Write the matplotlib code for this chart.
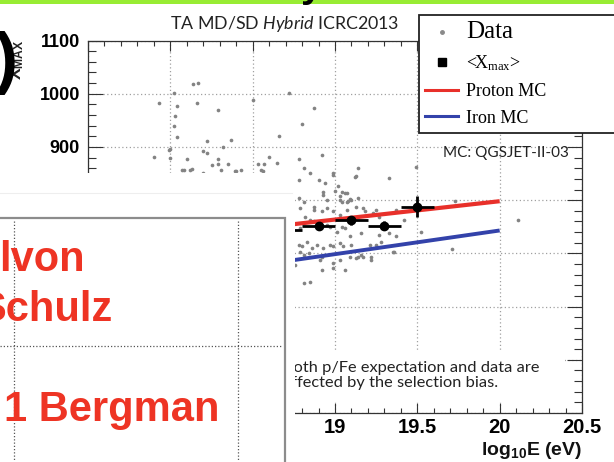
import matplotlib
matplotlib.use("Agg")
import matplotlib.pyplot as plt
from matplotlib.patches import Rectangle
from matplotlib.lines import Line2D
from matplotlib.ticker import MultipleLocator, FixedLocator

plt.rcParams['mathtext.fontset'] = 'custom'
plt.rcParams['mathtext.bf'] = 'Liberation Sans:bold'
plt.rcParams['mathtext.rm'] = 'Liberation Sans'
plt.rcParams['mathtext.it'] = 'Lato:italic'
plt.rcParams['mathtext.sf'] = 'Liberation Serif'

# ---------------- data ----------------
data_logE = [18.14, 18.17, 17.93, 18.02, 18.04, 18.16, 18.29, 18.03, 18.02, 18.04,
             18.22, 18.37, 18.32, 18.50, 18.72, 18.66, 17.99, 18.00, 17.90, 18.00,
             18.10, 18.20, 18.22, 18.29, 18.29, 18.25, 18.35, 18.07, 18.08, 18.12,
             18.13, 18.20, 18.31, 18.39, 18.40, 18.43, 18.53, 18.57, 18.55, 18.56,
             18.60, 18.65, 18.78, 18.80, 18.81, 18.87, 18.92, 18.99, 19.14, 19.12,
             19.13, 19.33, 19.49, 18.85,
             18.78, 18.90, 18.94, 18.99, 19.02, 19.06, 19.07, 19.00, 18.78, 18.93,
             18.95, 19.03, 19.04, 19.07, 19.09, 19.10, 18.79, 18.87, 18.92, 18.95,
             18.99, 19.03, 19.07, 19.13, 19.17, 19.25, 19.37, 18.82, 18.85, 18.87,
             18.79, 18.90, 18.95, 18.97, 19.01, 19.04, 19.06, 19.09, 19.16, 19.21,
             19.27, 19.33, 19.37, 19.42, 19.52, 18.78, 18.80, 18.83, 18.86, 18.89,
             18.93, 18.97, 18.99, 19.03, 19.05, 19.10, 19.16, 19.14, 19.17, 19.22,
             18.79, 18.81, 18.91, 18.99, 18.99, 19.03, 19.36, 18.92, 19.06, 18.81,
             18.85, 19.71, 20.11, 19.73, 18.81, 18.87, 18.93, 19.03, 19.04, 19.08,
             19.14, 19.18, 19.23, 19.27, 19.25, 19.28, 19.35, 19.09, 19.13, 18.92,
             18.76, 18.84, 19.22]
data_xmax = [1018, 1021, 983, 1002, 977, 983, 970, 958, 940, 918,
             912, 913, 900, 988, 1001, 921, 895, 896, 881, 879,
             878, 893, 888, 877, 868, 866, 867, 857, 857, 857,
             858, 851, 856, 855, 854, 856, 868, 868, 857, 855,
             882, 870, 877, 943, 861, 973, 884, 851, 860, 844,
             846, 841, 862, 851,
             838, 837, 832, 848, 826, 814, 813, 817, 804, 810,
             800, 800, 797, 797, 802, 800, 785, 782, 779, 786,
             779, 772, 782, 788, 785, 782, 782, 769, 763, 760,
             747, 747, 754, 750, 741, 750, 747, 732, 738, 716,
             735, 738, 732, 763, 741, 716, 713, 722, 710, 716,
             710, 716, 713, 719, 714, 716, 697, 694, 694, 694,
             703, 697, 688, 682, 672, 688, 703, 669, 669, 644,
             647, 708, 763, 799, 797, 788, 815, 807, 816, 799,
             804, 779, 776, 769, 716, 722, 703, 694, 691, 694,
             678, 700, 688]

mean_logE = [18.7, 18.9, 19.1, 19.3, 19.5]
mean_xmax = [744, 752, 762, 752, 788]
mean_xerr = [0.1, 0.1, 0.1, 0.1, 0.1]
mean_yerr = [6, 7, 8, 9, 19]

mc_logE = [18.0, 20.0]
proton_xmax = [729, 798]
iron_xmax = [654, 743]

x_ticks = [17.5, 18, 18.5, 19, 19.5, 20, 20.5]
x_ticklabels = ['17.5', '18', '18.5', '19', '19.5', '20', '20.5']
y_ticks = [400, 500, 600, 700, 800, 900, 1000, 1100]
y_ticklabels = ['400', '500', '600', '700', '800', '900', '1000', '1100']

W, H = 614, 462
def fx(x):
    return x / W
def fy(y):
    return 1 - y / H

fig = plt.figure(figsize=(6.14, 4.62), dpi=100)
fig.patch.set_facecolor('white')

ax = fig.add_axes([fx(88), fy(413), (582 - 88) / W, (413 - 40.5) / H])
ax.set_xlim(17.5, 20.5)
ax.set_ylim(400, 1100)

ax.xaxis.set_major_locator(FixedLocator(x_ticks))
ax.set_xticklabels(x_ticklabels)
ax.xaxis.set_minor_locator(MultipleLocator(0.1))
ax.yaxis.set_major_locator(FixedLocator(y_ticks))
ax.set_yticklabels(y_ticklabels)
ax.yaxis.set_minor_locator(MultipleLocator(20))

for s in ax.spines.values():
    s.set_linewidth(0.9)
    s.set_color('#333333')

ax.tick_params(axis='both', which='both', direction='in', top=True, right=True,
               color='#333333', width=0.8)
ax.tick_params(axis='x', which='major', length=7.2, pad=3.6, labelsize=14.5)
ax.tick_params(axis='x', which='minor', length=3.6)
ax.tick_params(axis='y', which='major', length=10.8, pad=5.8, labelsize=13)
ax.tick_params(axis='y', which='minor', length=5.8)
for lab in ax.get_xticklabels() + ax.get_yticklabels():
    lab.set_fontfamily('Liberation Sans')
    lab.set_fontweight('bold')

ax.grid(True, which='major', ls=(0, (1, 2)), color='#a0a0a0', lw=0.9)
ax.set_axisbelow(True)

ax.scatter(data_logE, data_xmax, s=7, color='#838383', zorder=2, linewidths=0)
ax.plot(mc_logE, proton_xmax, color='#e8302a', lw=3, zorder=3, solid_capstyle='butt')
ax.plot(mc_logE, iron_xmax, color='#3342aa', lw=2.8, zorder=3, solid_capstyle='butt')
ax.errorbar(mean_logE, mean_xmax, xerr=mean_xerr, yerr=mean_yerr, fmt='o',
            color='black', ms=6, elinewidth=2, capsize=0, zorder=4)

handles = [Line2D([], [], ls='', marker='o', ms=2.5, color='#8a8a8a'),
           Line2D([], [], ls='', marker='s', ms=6, color='black'),
           Line2D([], [], color='#e8302a', lw=2.2),
           Line2D([], [], color='#3342aa', lw=2.2)]
labels = ['Data', r'<X$_{\mathsf{max}}$>', 'Proton MC', 'Iron MC']
leg = ax.legend(handles, labels, loc='upper left',
                bbox_to_anchor=(fx(419), fy(133), 240 / W, 118 / H),
                bbox_transform=fig.transFigure, mode='expand', borderaxespad=0,
                frameon=True, fancybox=False, framealpha=1, edgecolor='#222222',
                prop={'family': 'Liberation Serif', 'size': 13},
                handlelength=1.8, handletextpad=0.45, labelspacing=0.55,
                borderpad=0.35)
leg.get_frame().set_linewidth(1.3)
leg.get_texts()[0].set_fontsize(18)
leg.set_zorder(6)

ax.text(fx(443), fy(157), 'MC: QGSJET-II-03', transform=fig.transFigure,
        fontfamily='Lato', fontsize=11, color='#222222', ha='left', va='baseline', zorder=5)

fig.text(fx(170), fy(29), r'TA MD/SD $\mathit{Hybrid}$ ICRC2013', fontfamily='Lato',
         fontsize=12.8, color='#222222', ha='left', va='baseline')

fig.text(fx(17), fy(60), r'$\mathbf{X_{MAX}}$', rotation=90, fontsize=12.5,
         ha='center', va='center', color='#222222')
fig.text(fx(-5), fy(63), ')', fontfamily='Liberation Sans', fontweight='bold',
         fontsize=50, ha='left', va='center', color='black', zorder=7)

fig.text(fx(582), fy(455), r'$\mathbf{log_{10}E\ (eV)}$', fontsize=14,
         ha='right', va='baseline', color='#111111')

# slide decorations
fig.add_artist(Rectangle((0, fy(3.5)), 1, 3.5 / H, transform=fig.transFigure,
                         facecolor='#98ec33', edgecolor='none', zorder=8))
fig.text(fx(312), fy(-3), 'y', fontfamily='Liberation Sans', fontweight='bold',
         fontsize=28, ha='center', va='baseline', color='black', zorder=9)

# white text box
fig.add_artist(Rectangle((fx(280), fy(402)), (565 - 280) / W, 51 / H,
                         transform=fig.transFigure, facecolor='white',
                         edgecolor='none', zorder=8))
fig.text(fx(283), fy(372), 'Both p/Fe expectation and data are', fontfamily='Lato',
         fontsize=11.8, color='#222222', ha='left', va='baseline', zorder=9)
fig.text(fx(283), fy(387), 'affected by the selection bias.', fontfamily='Lato',
         fontsize=11.8, color='#222222', ha='left', va='baseline', zorder=9)

# white cover and overlapping box
fig.add_artist(Rectangle((0, 0), 295 / W, fy(173), transform=fig.transFigure,
                         facecolor='white', edgecolor='none', zorder=10))
fig.add_artist(Line2D([0, fx(292)], [fy(193), fy(193)], transform=fig.transFigure,
                      color='#eeeeee', lw=0.8, zorder=11))
fig.add_artist(Line2D([0, fx(285), fx(285)], [fy(218), fy(218), 0],
                      transform=fig.transFigure, color='#8c8c8c', lw=1.6,
                      zorder=11, solid_joinstyle='miter'))
for gx in [14, 238]:
    fig.add_artist(Line2D([fx(gx), fx(gx)], [fy(221), 0], transform=fig.transFigure,
                          color='#555555', lw=0.9, ls=(0, (1, 1.6)), zorder=12))
fig.add_artist(Line2D([0, fx(282)], [fy(346), fy(346)], transform=fig.transFigure,
                      color='#555555', lw=0.9, ls=(0, (1, 1.6)), zorder=12))

red = '#ee3424'
fig.text(fx(85), fy(271), 'lvon', fontfamily='Liberation Sans', fontweight='bold',
         fontsize=30, color=red, ha='right', va='baseline', zorder=13)
fig.text(fx(113), fy(321), 'Schulz', fontfamily='Liberation Sans', fontweight='bold',
         fontsize=30, color=red, ha='right', va='baseline', zorder=13)
fig.text(fx(219), fy(421), '1 Bergman', fontfamily='Liberation Sans', fontweight='bold',
         fontsize=30, color=red, ha='right', va='baseline', zorder=13)

fig.savefig('out.png', dpi=100, facecolor='white')
